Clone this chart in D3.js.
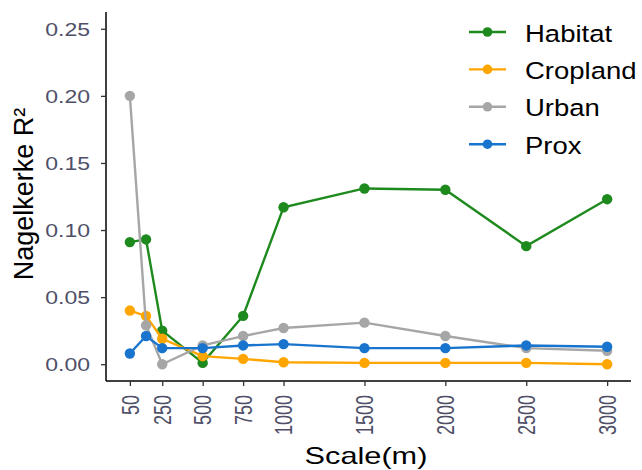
<!DOCTYPE html>
<html>
<head>
<meta charset="utf-8">
<script src="https://cdn.jsdelivr.net/npm/d3@7"></script>
<style>
  html, body { margin: 0; padding: 0; background: #fff; }
  svg { display: block; font-family: "Liberation Sans", Arial, sans-serif; }
</style>
</head>
<body>
<svg id="chart" width="642" height="470"></svg>
<script>
// Spatial scales (m) at which each predictor was evaluated
const scales = [50, 150, 250, 500, 750, 1000, 1500, 2000, 2500, 3000];
const xTicks = [50, 250, 500, 750, 1000, 1500, 2000, 2500, 3000];
const yTicks = [0, 0.05, 0.10, 0.15, 0.20, 0.25];

// Nagelkerke R² per predictor
const habitat  = [0.091, 0.093, 0.025, 0.001, 0.036, 0.117, 0.131, 0.130, 0.088, 0.123];
const cropland = [0.040, 0.036, 0.019, 0.006, 0.004, 0.0015, 0.001, 0.001, 0.001, 0.000];
const urban    = [0.200, 0.029, 0.000, 0.014, 0.021, 0.027, 0.031, 0.021, 0.012, 0.010];
const prox     = [0.008, 0.021, 0.012, 0.012, 0.014, 0.015, 0.012, 0.012, 0.014, 0.013];

const seriesNames  = ["Habitat", "Cropland", "Urban", "Prox"];
const seriesValues = [habitat, cropland, urban, prox];
const seriesColors = ["#1e8a1e", "#ffa500", "#a6a6a6", "#1874cd"];

const svg = d3.select("#chart");
const plotLeft = 106, plotRight = 631, plotTop = 12, plotBottom = 381;
const tickColor = "#4f5068";
const wide = 1.28; // horizontal glyph stretch for labels

// Limits padded by 5% on each side
const xDom = [50, 3000], xPad = (xDom[1] - xDom[0]) * 0.05;
const yDom = [0, 0.25], yPad = (yDom[1] - yDom[0]) * 0.05;

const x = d3.scaleLinear().domain([xDom[0] - xPad, xDom[1] + xPad]).range([plotLeft, plotRight]);
const y = d3.scaleLinear().domain([yDom[0] - yPad, yDom[1] + yPad]).range([plotBottom, plotTop]);

// Axes
const yAxis = svg.append("g")
  .attr("transform", `translate(${plotLeft},0)`)
  .call(d3.axisLeft(y).tickValues(yTicks).tickFormat(d3.format(".2f")).tickSize(5).tickSizeOuter(0));
const xAxis = svg.append("g")
  .attr("transform", `translate(0,${plotBottom})`)
  .call(d3.axisBottom(x).tickValues(xTicks).tickFormat(d3.format("d")).tickSize(5).tickSizeOuter(0));

[xAxis, yAxis].forEach(a => {
  a.select(".domain").attr("stroke", "#000").attr("stroke-width", 1.5);
  a.selectAll(".tick line").attr("stroke", "#333").attr("stroke-width", 1.3);
  a.selectAll(".tick text").attr("fill", tickColor).attr("font-size", 18);
});
// Axis lines span the whole panel
yAxis.select(".domain").attr("d", `M0,${plotBottom}V${plotTop}`);
xAxis.select(".domain").attr("d", `M${plotLeft},0H${plotRight}`);

yAxis.selectAll(".tick text")
  .attr("x", 0)
  .attr("dy", "0.36em")
  .attr("text-anchor", "end")
  .attr("transform", `translate(-16,0) scale(${wide},1)`);

xAxis.selectAll(".tick text")
  .attr("x", 0)
  .attr("y", 0)
  .attr("dy", "0.36em")
  .attr("text-anchor", "end")
  .attr("transform", `translate(0,14) scale(${wide},1) rotate(-90)`);

// Axis titles
svg.append("text")
  .attr("transform", `translate(366,464) scale(${wide},1)`)
  .attr("text-anchor", "middle")
  .attr("font-size", 24)
  .attr("fill", "#000")
  .text("Scale(m)");

svg.append("text")
  .attr("transform", `translate(33,194) rotate(-90)`)
  .attr("text-anchor", "middle")
  .attr("font-size", 27)
  .attr("fill", "#000")
  .text("Nagelkerke R²");

// Lines and points
const line = d3.line().x((d, i) => x(scales[i])).y(d => y(d));

seriesValues.forEach((vals, k) => {
  const g = svg.append("g");
  g.append("path")
    .datum(vals)
    .attr("d", line)
    .attr("fill", "none")
    .attr("stroke", seriesColors[k])
    .attr("stroke-width", 2.4);
  g.selectAll("circle")
    .data(vals)
    .join("circle")
    .attr("cx", (d, i) => x(scales[i]))
    .attr("cy", d => y(d))
    .attr("r", 5.2)
    .attr("fill", seriesColors[k]);
});

// Legend
const legend = svg.append("g");
seriesNames.forEach((name, k) => {
  const ly = 32 + k * 37.4;
  legend.append("line")
    .attr("x1", 469).attr("x2", 506)
    .attr("y1", ly).attr("y2", ly)
    .attr("stroke", seriesColors[k]).attr("stroke-width", 2.4);
  legend.append("circle")
    .attr("cx", 487.5).attr("cy", ly).attr("r", 4.8)
    .attr("fill", seriesColors[k]);
  legend.append("text")
    .attr("transform", `translate(525,${ly + 9.5}) scale(1.17,1)`)
    .attr("font-size", 23.5)
    .attr("fill", "#000")
    .text(name);
});
</script>
</body>
</html>
